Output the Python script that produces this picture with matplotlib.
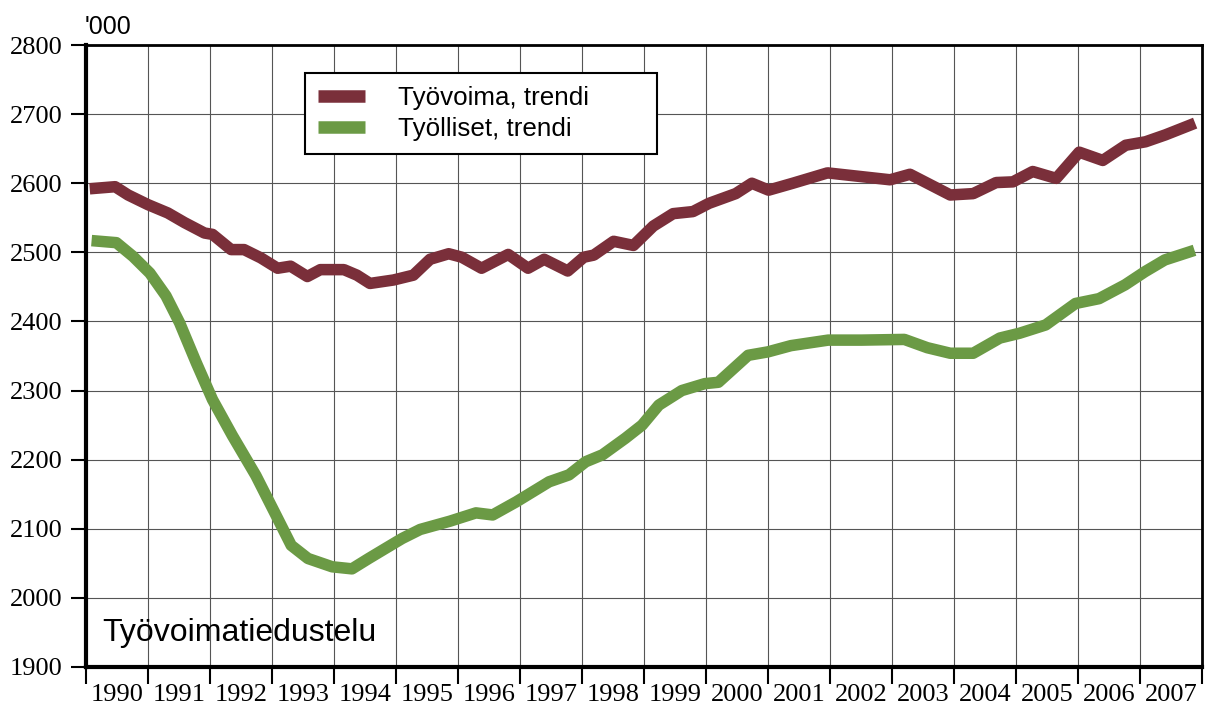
import matplotlib
matplotlib.use("Agg")
import matplotlib.pyplot as plt
from matplotlib.ticker import FixedLocator, NullFormatter

# labour force trend ('000)
tyovoima_t = [1990.06, 1990.47, 1990.68, 1991.00, 1991.32, 1991.59, 1991.91, 1992.04,
              1992.34, 1992.55, 1992.82, 1993.09, 1993.30, 1993.57, 1993.78, 1994.16,
              1994.37, 1994.58, 1994.96, 1995.28, 1995.55, 1995.85, 1996.06, 1996.38,
              1996.81, 1997.13, 1997.39, 1997.77, 1998.03, 1998.19, 1998.51, 1998.83,
              1999.15, 1999.47, 1999.79, 2000.05, 2000.48, 2000.74, 2001.01, 2001.40,
              2001.96, 2002.97, 2003.29, 2003.94, 2004.31, 2004.68, 2004.95, 2005.27,
              2005.65, 2006.02, 2006.40, 2006.77, 2007.09, 2007.41, 2007.89]
tyovoima = [2592, 2595, 2583, 2569, 2557, 2543, 2528, 2526,
            2504, 2504, 2492, 2477, 2480, 2465, 2475, 2475,
            2467, 2455, 2460, 2467, 2490, 2498, 2493, 2477,
            2497, 2477, 2490, 2473, 2493, 2496, 2516, 2510,
            2538, 2556, 2559, 2571, 2585, 2600, 2590, 2600,
            2615, 2605, 2613, 2583, 2585, 2601, 2602, 2617,
            2607, 2645, 2633, 2655, 2660, 2670, 2687]

# employed trend ('000)
tyolliset_t = [1990.09, 1990.49, 1990.76, 1991.03, 1991.29, 1991.51, 1991.78, 1992.04,
               1992.36, 1992.74, 1993.04, 1993.31, 1993.58, 1993.97, 1994.29, 1994.56,
               1994.82, 1995.10, 1995.39, 1995.87, 1996.29, 1996.56, 1996.94, 1997.47,
               1997.79, 1998.06, 1998.33, 1998.70, 1998.97, 1999.24, 1999.61, 1999.98,
               2000.20, 2000.68, 2001.00, 2001.37, 2001.97, 2002.51, 2003.20, 2003.57,
               2003.94, 2004.31, 2004.74, 2005.06, 2005.48, 2005.96, 2006.34, 2006.76,
               2007.08, 2007.40, 2007.88]
tyolliset = [2517, 2514, 2494, 2470, 2437, 2398, 2340, 2287,
             2235, 2177, 2124, 2076, 2057, 2045, 2042, 2057,
             2071, 2086, 2099, 2111, 2123, 2120, 2139, 2168,
             2178, 2197, 2207, 2231, 2250, 2279, 2300, 2310,
             2312, 2351, 2356, 2365, 2373, 2373, 2374, 2362,
             2354, 2354, 2376, 2383, 2395, 2426, 2433, 2453,
             2472, 2489, 2503]

years = list(range(1990, 2008))
yticks = list(range(1900, 2801, 100))

fig = plt.figure(figsize=(12.13, 7.07), dpi=100)
ax = fig.add_axes([0.0709, 0.0566, 0.920, 0.8797])

ax.plot(tyovoima_t, tyovoima, color="#7a2f3a", lw=8.3, solid_capstyle="butt",
        solid_joinstyle="round", label="Työvoima, trendi", zorder=3)
ax.plot(tyolliset_t, tyolliset, color="#6b9a45", lw=8.3, solid_capstyle="butt",
        solid_joinstyle="round", label="Työlliset, trendi", zorder=3)

ax.set_xlim(1990, 2008)
ax.set_ylim(1900, 2800)

# year boundaries carry ticks/grid, labels sit mid-year
ax.xaxis.set_major_locator(FixedLocator(years + [2008]))
ax.xaxis.set_major_formatter(NullFormatter())
ax.xaxis.set_minor_locator(FixedLocator([y + 0.5 for y in years]))
ax.set_xticklabels([str(y) for y in years], minor=True)
ax.tick_params(axis="x", which="major", direction="out", length=12, width=1.5)
ax.tick_params(axis="x", which="minor", length=0, pad=12)
ax.set_yticks(yticks)
ax.tick_params(axis="y", direction="out", length=11, width=1.5, pad=6)

for lab in ax.get_xticklabels(minor=True) + ax.get_yticklabels():
    lab.set_family("Liberation Serif")
    lab.set_fontsize(19)

ax.grid(True, which="major", color="#555555", lw=0.8)
ax.set_axisbelow(True)

ax.spines["left"].set_linewidth(3)
ax.spines["bottom"].set_linewidth(3)
ax.spines["top"].set_linewidth(2)
ax.spines["right"].set_linewidth(2)

fig.text(0.0700, 0.962, "'000", family="Liberation Sans", fontsize=18,
         ha="left", va="center")
ax.text(0.015, 0.055, "Työvoimatiedustelu", transform=ax.transAxes,
        family="Liberation Sans", fontsize=23, ha="left", va="center")

leg = ax.legend(loc="upper left",
                bbox_to_anchor=(305 / 1213, 1 - 155 / 707, 352 / 1213, 82 / 707),
                bbox_transform=fig.transFigure, borderaxespad=0, mode="expand",
                prop={"family": "Liberation Sans", "size": 18.7},
                handlelength=1.8, handletextpad=1.3, borderpad=0.5,
                labelspacing=0.27, fancybox=False, framealpha=1)
leg.get_frame().set_edgecolor("black")
leg.get_frame().set_linewidth(1.5)
for h in leg.get_lines():
    h.set_linewidth(9)

fig.savefig("out.png", dpi=100)
